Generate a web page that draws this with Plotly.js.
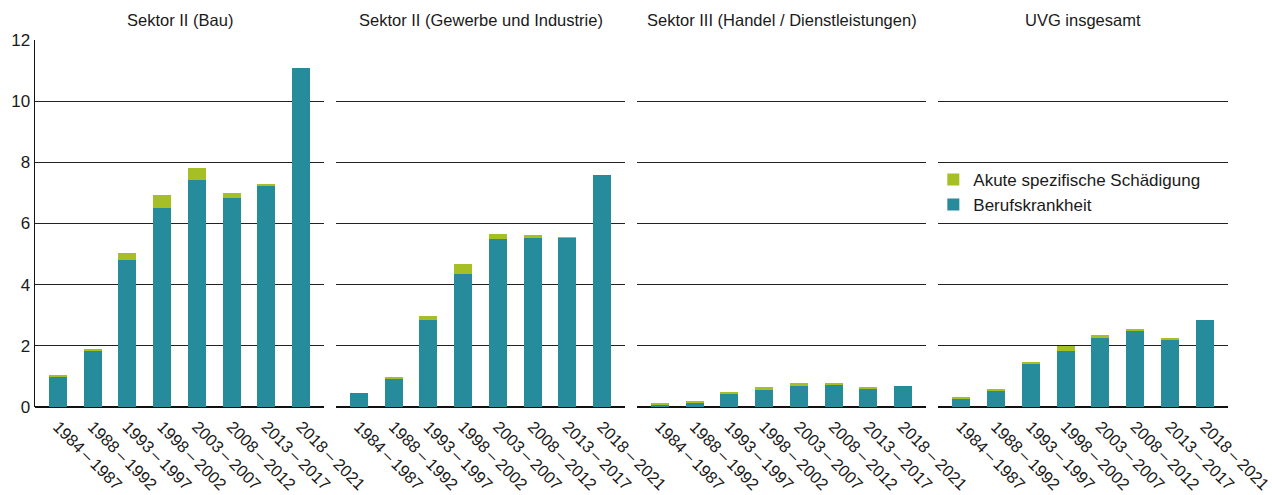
<!DOCTYPE html>
<html>
<head>
<meta charset="utf-8">
<script src="https://cdn.plot.ly/plotly-3.0.1.min.js"></script>
<style>html,body{margin:0;padding:0;background:#fff;}#chart{width:1272px;height:495px;}</style>
</head>
<body>
<div id="chart"></div>
<script>
const periods = ["1984\u2009–\u20091987","1988\u2009–\u20091992","1993\u2009–\u20091997","1998\u2009–\u20092002","2003\u2009–\u20092007","2008\u2009–\u20092012","2013\u2009–\u20092017","2018\u2009–\u20092021"];
const panelTitles = ["Sektor II (Bau)","Sektor II (Gewerbe und Industrie)","Sektor III (Handel / Dienstleistungen)","UVG insgesamt"];
const seriesNames = ["Berufskrankheit","Akute spezifische Schädigung"];

const berufBau      = [0.99, 1.84, 4.82, 6.52, 7.41, 6.85, 7.21, 11.07];
const akutBau       = [0.07, 0.07, 0.20, 0.40, 0.42, 0.16, 0.07, 0.00];
const berufGewerbe  = [0.47, 0.93, 2.86, 4.36, 5.48, 5.54, 5.51, 7.60];
const akutGewerbe   = [0.00, 0.06, 0.13, 0.33, 0.19, 0.07, 0.06, 0.00];
const berufHandel   = [0.08, 0.14, 0.44, 0.57, 0.70, 0.73, 0.60, 0.70];
const akutHandel    = [0.06, 0.07, 0.06, 0.10, 0.10, 0.07, 0.07, 0.00];
const berufUVG      = [0.27, 0.53, 1.39, 1.84, 2.24, 2.50, 2.20, 2.86];
const akutUVG       = [0.07, 0.07, 0.09, 0.17, 0.13, 0.06, 0.07, 0.00];

const berufAll = [berufBau, berufGewerbe, berufHandel, berufUVG];
const akutAll  = [akutBau, akutGewerbe, akutHandel, akutUVG];

const teal = "#268c9c", green = "#a6bf24";
const fontFam = "Liberation Sans, Arial, sans-serif";

const traces = [];
const suffix = ["", "2", "3", "4"];
for (let i = 0; i < 4; i++) {
  traces.push({
    type: "bar", x: periods, y: berufAll[i], name: seriesNames[0],
    marker: {color: teal, line: {width: 0}}, width: 0.52,
    xaxis: "x" + suffix[i], yaxis: "y" + suffix[i],
    showlegend: i === 0, legendgroup: "b", hoverinfo: "y"
  });
}
for (let i = 0; i < 4; i++) {
  traces.push({
    type: "bar", x: periods, y: akutAll[i], name: seriesNames[1],
    marker: {color: green, line: {width: 0}}, width: 0.52,
    xaxis: "x" + suffix[i], yaxis: "y" + suffix[i],
    showlegend: i === 0, legendgroup: "a", hoverinfo: "y"
  });
}

const W = 1193;
const doms = [[0, 289/W], [301/W, 590/W], [602/W, 891/W], [903/W, 1]];

const layout = {
  width: 1272, height: 495,
  margin: {l: 35, r: 44, t: 40, b: 88},
  barmode: "stack",
  paper_bgcolor: "#fff", plot_bgcolor: "#fff",
  font: {family: fontFam, size: 15, color: "#1a1a1a"},
  showlegend: true,
  legend: {x: 0.753, y: 0.668, xanchor: "left", yanchor: "top", traceorder: "reversed",
           font: {size: 17, family: fontFam, color: "#1a1a1a"}, bgcolor: "rgba(0,0,0,0)", tracegroupgap: 0},
  annotations: []
};

for (let i = 0; i < 4; i++) {
  const s = suffix[i];
  layout["xaxis" + s] = {
    domain: doms[i], anchor: "y" + s, type: "category",
    range: [-0.66, 7.66], tickangle: 45, showgrid: false, zeroline: false,
    showline: false, ticks: "", ticklabelstandoff: 6,
    tickfont: {size: 16.5, family: fontFam, color: "#1a1a1a"}, fixedrange: true
  };
  layout["yaxis" + s] = {
    domain: [0, 1], anchor: "x" + s, range: [0, 12], dtick: 2,
    showgrid: true, gridcolor: "#222", gridwidth: 1,
    zeroline: true, zerolinecolor: "#111", zerolinewidth: 2,
    showline: i === 0, linecolor: "#111", linewidth: 1.5,
    showticklabels: i === 0, ticks: "", ticklen: 0,
    tickfont: {size: 17, family: fontFam, color: "#1a1a1a"}, fixedrange: true
  };
  if (i > 0) layout["yaxis" + s].matches = "y";
  layout.annotations.push({
    text: panelTitles[i], xref: "x" + s + " domain", yref: "paper",
    x: 0.5, y: 1, yshift: 20, xanchor: "center", yanchor: "middle",
    showarrow: false, font: {size: 16.5, family: fontFam, color: "#1a1a1a"}
  });
}

Plotly.newPlot("chart", traces, layout, {staticPlot: true, displayModeBar: false});
</script>
</body>
</html>
